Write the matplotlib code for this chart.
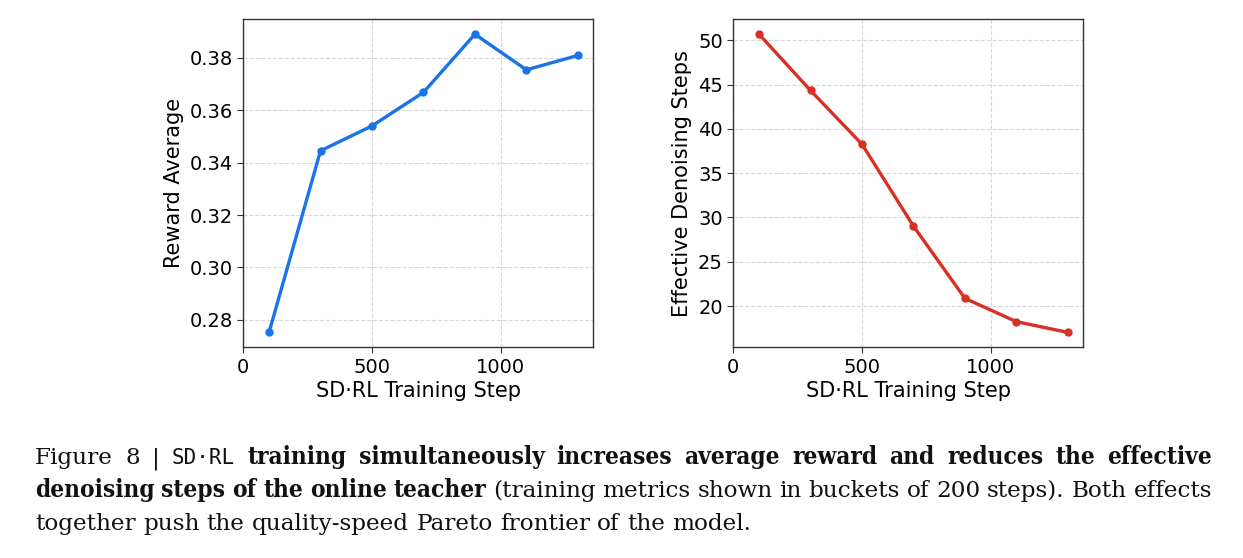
import numpy as np
import matplotlib
matplotlib.use("Agg")
import matplotlib.pyplot as plt

steps = [100, 300, 500, 700, 900, 1100, 1300]
reward_avg = [0.2752, 0.3445, 0.3540, 0.3668, 0.3890, 0.3754, 0.3809]
denoise_steps = [50.68, 44.33, 38.27, 29.02, 20.87, 18.24, 17.03]

xlabel = "SD·RL Training Step"
ylabel_left = "Reward Average"
ylabel_right = "Effective Denoising Steps"

caption = [
    ([("Figure", "reg"), ("8", "reg"), ("|", "reg"), ("SD·RL", "mono"),
      ("training simultaneously increases average reward and reduces the effective", "bold")], True),
    ([("denoising steps of the online teacher", "bold"),
      ("(training metrics shown in buckets of 200 steps). Both effects", "reg")], True),
    ([("together push the quality-speed Pareto frontier of the model.", "reg")], False),
]

W, H = 1243, 558
fig = plt.figure(figsize=(W / 100, H / 100), dpi=100)

ax1 = fig.add_axes([243.3 / W, 1 - 347.3 / H, 350 / W, 328 / H])
ax2 = fig.add_axes([733.3 / W, 1 - 347.3 / H, 350 / W, 328 / H])

for ax, ys, col, lab in [(ax1, reward_avg, "#1a73e8", ylabel_left),
                         (ax2, denoise_steps, "#d93025", ylabel_right)]:
    ax.plot(steps, ys, color=col, lw=2.4, marker="o", ms=5)
    ax.set_xlim(0, 1360)
    ax.set_xticks([0, 500, 1000])
    ax.grid(True, ls="--", lw=0.8, color="#d8d8d8")
    ax.set_axisbelow(True)
    ax.set_xlabel(xlabel, fontsize=15, labelpad=3)
    ax.set_ylabel(lab, fontsize=15, labelpad=4)
    ax.tick_params(labelsize=14, length=4, color="#333333")
    for s in ax.spines.values():
        s.set_color("#333333")
        s.set_linewidth(1.0)

ax1.set_yticks(np.arange(0.28, 0.381, 0.02))
ax2.set_yticks(np.arange(20, 51, 5))

# caption, placed word by word so lines can be justified
styles = {
    "reg": dict(family="DejaVu Serif", fontsize=16.7),
    "bold": dict(family="DejaVu Serif", fontsize=17.6, fontweight="bold", fontstretch="condensed"),
    "mono": dict(family="DejaVu Sans Mono", fontsize=15),
}
fig.canvas.draw()
r = fig.canvas.get_renderer()

def width(s, st):
    t = fig.text(0, 0, s, **styles[st])
    w = t.get_window_extent(r).width
    t.remove()
    return w

space = width("a a", "reg") - width("aa", "reg")
x_left, x_right = 35, 1212
baselines = [464, 497, 530]

for (runs, justify), yb in zip(caption, baselines):
    words = []
    for txt, st in runs:
        for w in txt.split(" "):
            words.append((w, st))
    ws = [width(w, st) for w, st in words]
    gap = (x_right - x_left - sum(ws)) / (len(words) - 1) if justify else space
    x = x_left
    for (w, st), wd in zip(words, ws):
        fig.text(x / W, 1 - yb / H, w, va="baseline", ha="left", color="#111111", **styles[st])
        x += wd + gap

fig.savefig("out.png", dpi=100)
